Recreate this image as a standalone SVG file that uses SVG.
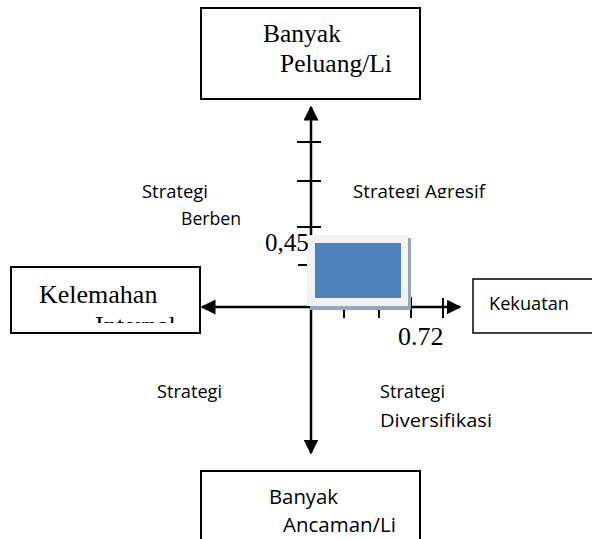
<svg xmlns="http://www.w3.org/2000/svg" width="592" height="539" viewBox="0 0 592 539">
<style>
.box{fill:#fff;stroke:#000;stroke-width:2}
.serif{font-family:"Liberation Serif","Times New Roman",serif;fill:#000}
.sans{font-family:"Open Sans","Liberation Sans",sans-serif;fill:#000}
.axis{stroke:#000;stroke-width:2.5;fill:none}
.tick{stroke:#000;stroke-width:2;fill:none}
</style>
<defs>
<marker id="arr" viewBox="0 0 10 10" refX="9" refY="5" markerWidth="6" markerHeight="6" orient="auto-start-reverse" markerUnits="strokeWidth"><path d="M0,0 L10,5 L0,10 z" fill="#000"/></marker>
<clipPath id="cTop"><rect x="200" y="7" width="221" height="82"/></clipPath>
<clipPath id="cLeft"><rect x="10" y="267" width="190" height="56"/></clipPath>
<clipPath id="cAgr"><rect x="340" y="170" width="200" height="28"/></clipPath>
<clipPath id="c045"><rect x="250" y="225" width="58" height="40"/></clipPath>
</defs>

<g id="connectors">
<line class="axis" x1="311" y1="235" x2="311" y2="107" marker-end="url(#arr)"/>
<line class="axis" x1="311" y1="307" x2="311" y2="453" marker-end="url(#arr)"/>
<line class="axis" x1="311" y1="307" x2="202" y2="307" marker-end="url(#arr)"/>
<line class="axis" x1="311" y1="307" x2="460" y2="307" marker-end="url(#arr)"/>
<line class="tick" x1="297" y1="142" x2="321" y2="142"/>
<line class="tick" x1="297" y1="181" x2="321" y2="181"/>
<line class="tick" x1="297" y1="227" x2="321" y2="227"/>
<line class="tick" x1="298" y1="265" x2="307" y2="265"/>
<line class="tick" x1="344" y1="307" x2="344" y2="318"/>
<line class="tick" x1="379" y1="307" x2="379" y2="318"/>
<line class="tick" x1="411" y1="297" x2="411" y2="318"/>
<line class="tick" x1="443" y1="298" x2="443" y2="318"/>
</g>

<g id="chart-box">
<rect x="310" y="238" width="101" height="72" fill="#97a5ba"/>
<rect x="307" y="235" width="101" height="71" fill="#f2f2f2"/>
<rect x="315" y="243" width="86" height="55" fill="#4f81bd"/>
</g>

<g id="label-045">
<text class="serif" x="265" y="251" font-size="25" clip-path="url(#c045)">0,45</text>
</g>
<g id="label-072">
<text class="serif" x="398" y="345" font-size="26">0.72</text>
</g>

<g id="node-top">
<rect class="box" x="201" y="8" width="219" height="91"/>
<g clip-path="url(#cTop)">
<text class="serif" x="263" y="42" font-size="25.5">Banyak</text>
<text class="serif" x="280" y="72" font-size="25.5">Peluang/Li</text>
</g>
</g>

<g id="node-left">
<rect class="box" x="11" y="267" width="189" height="66"/>
<g clip-path="url(#cLeft)">
<text class="serif" x="39" y="303" font-size="26">Kelemahan</text>
<text class="serif" x="95" y="334" font-size="26">Internal</text>
</g>
</g>

<g id="node-right">
<rect x="473" y="279" width="125" height="54" fill="#fff" stroke="#000" stroke-width="1.5"/>
<text class="sans" x="489" y="310" font-size="18.5" textLength="80" lengthAdjust="spacingAndGlyphs">Kekuatan</text>
</g>

<g id="node-bottom">
<rect class="box" x="201" y="471" width="219" height="80"/>
<text class="sans" x="269" y="504" font-size="20.5" textLength="69" lengthAdjust="spacingAndGlyphs">Banyak</text>
<text class="sans" x="283" y="532" font-size="20.5" textLength="113" lengthAdjust="spacingAndGlyphs">Ancaman/Li</text>
</g>

<g id="quadrant-labels">
<text class="sans" x="142" y="198" font-size="18.5" textLength="66" lengthAdjust="spacingAndGlyphs">Strategi</text>
<text class="sans" x="181" y="225" font-size="18.5" textLength="60" lengthAdjust="spacingAndGlyphs">Berben</text>
<text class="sans" x="353" y="198" font-size="18.5" textLength="132" lengthAdjust="spacingAndGlyphs" clip-path="url(#cAgr)">Strategi Agresif</text>
<text class="sans" x="157" y="398" font-size="18.5" textLength="65" lengthAdjust="spacingAndGlyphs">Strategi</text>
<text class="sans" x="380" y="398" font-size="18.5" textLength="65" lengthAdjust="spacingAndGlyphs">Strategi</text>
<text class="sans" x="380" y="427" font-size="18.5" textLength="112" lengthAdjust="spacingAndGlyphs">Diversifikasi</text>
</g>
</svg>
